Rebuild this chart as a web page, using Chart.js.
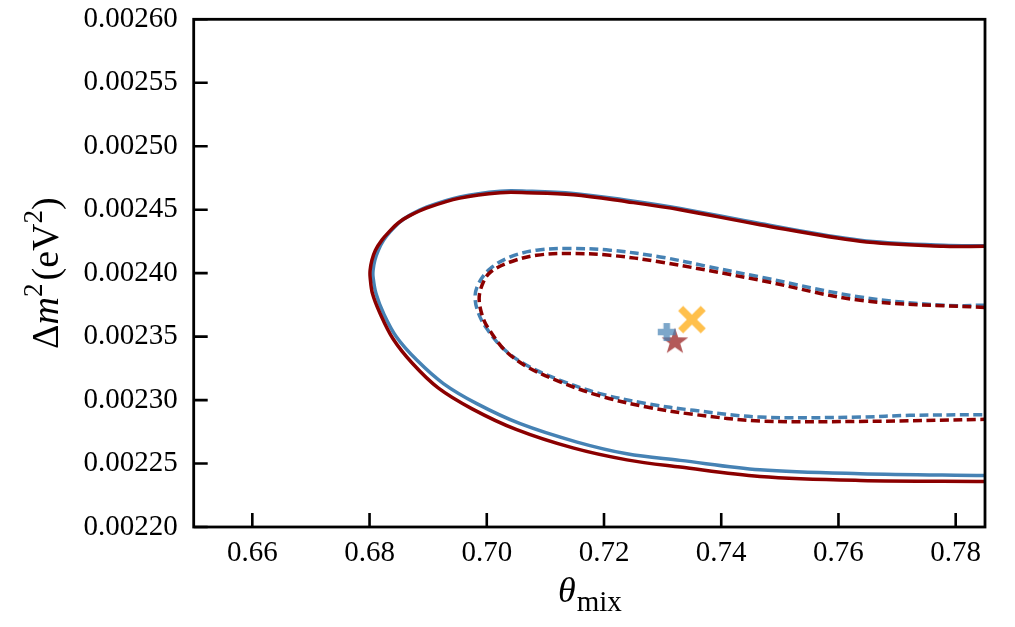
<!DOCTYPE html>
<html>
<head>
<meta charset="utf-8">
<script src="https://cdn.jsdelivr.net/npm/chart.js@4.4.1/dist/chart.umd.min.js"></script>
<style>
html,body{margin:0;padding:0;background:#fff;}
#wrap{width:1015px;height:627px;position:relative;}
</style>
</head>
<body>
<div id="wrap"><canvas id="c"></canvas></div>
<script>
// ---- data ----
const xTicks = [0.66, 0.68, 0.70, 0.72, 0.74, 0.76, 0.78];
const yTicks = [0.00220, 0.00225, 0.00230, 0.00235, 0.00240, 0.00245, 0.00250, 0.00255, 0.00260];

// outer (solid) contour, red
const redOuterX = [0.7850,0.7779,0.7637,0.7466,0.7330,0.7239,0.7148,0.7068,0.7023,0.6954,0.6898,0.6867,0.6849,0.6832,0.6821,0.6810,0.6804,0.6801,0.6801,0.6805,0.6818,0.6840,0.6873,0.6917,0.6975,0.7050,0.7147,0.7239,0.7330,0.7466,0.7637,0.7850];
const redOuterY = [0.0024212,0.0024212,0.0024252,0.0024382,0.0024500,0.0024563,0.0024618,0.0024634,0.0024634,0.0024591,0.0024514,0.0024449,0.0024396,0.0024319,0.0024260,0.0024181,0.0024102,0.0024023,0.0023970,0.0023839,0.0023682,0.0023483,0.0023290,0.0023096,0.0022931,0.0022769,0.0022623,0.0022529,0.0022472,0.0022398,0.0022367,0.0022359];
// outer (solid) contour, blue
const blueOuterX = [0.7850,0.7779,0.7637,0.7466,0.7330,0.7239,0.7148,0.7068,0.7023,0.6954,0.6898,0.6869,0.6852,0.6835,0.6824,0.6815,0.6809,0.6806,0.6806,0.6811,0.6824,0.6846,0.6881,0.6926,0.6983,0.7057,0.7154,0.7239,0.7330,0.7466,0.7637,0.7850];
const blueOuterY = [0.0024216,0.0024220,0.0024260,0.0024391,0.0024510,0.0024575,0.0024628,0.0024646,0.0024646,0.0024601,0.0024522,0.0024457,0.0024404,0.0024325,0.0024260,0.0024181,0.0024102,0.0024023,0.0023970,0.0023839,0.0023682,0.0023497,0.0023313,0.0023130,0.0022972,0.0022814,0.0022669,0.0022577,0.0022525,0.0022451,0.0022420,0.0022406];
// inner (dashed) contour, red
const redInnerX = [0.7850,0.7637,0.7466,0.7296,0.7210,0.7142,0.7085,0.7040,0.7007,0.6994,0.6987,0.6994,0.7006,0.7031,0.7069,0.7125,0.7193,0.7273,0.7353,0.7466,0.7637,0.7850];
const redInnerY = [0.0023729,0.0023786,0.0023944,0.0024088,0.0024141,0.0024155,0.0024141,0.0024088,0.0024011,0.0023928,0.0023800,0.0023642,0.0023542,0.0023392,0.0023262,0.0023144,0.0023033,0.0022945,0.0022887,0.0022835,0.0022832,0.0022848];
// inner (dashed) contour, blue
const blueInnerX = [0.7850,0.7779,0.7637,0.7466,0.7381,0.7296,0.7210,0.7142,0.7085,0.7040,0.7006,0.6986,0.6980,0.6986,0.7000,0.7028,0.7068,0.7125,0.7193,0.7273,0.7353,0.7466,0.7637,0.7722,0.7850];
const blueInnerY = [0.0023747,0.0023747,0.0023812,0.0023970,0.0024049,0.0024128,0.0024181,0.0024194,0.0024181,0.0024128,0.0024036,0.0023918,0.0023812,0.0023682,0.0023563,0.0023406,0.0023274,0.0023156,0.0023051,0.0022972,0.0022919,0.0022866,0.0022866,0.0022880,0.0022885];

// best-fit points
const plusPoint = [0.7307, 0.0023536];
const starPoint = [0.7321, 0.0023471];
const xPoint    = [0.7350, 0.0023634];

// ---- helpers ----
const zip = (xs, ys) => xs.map((x, i) => ({x: x, y: ys[i]}));

function crossPath(g, h, w) {
  g.beginPath();
  g.moveTo(-w,-h); g.lineTo(w,-h); g.lineTo(w,-w); g.lineTo(h,-w); g.lineTo(h,w); g.lineTo(w,w);
  g.lineTo(w,h); g.lineTo(-w,h); g.lineTo(-w,w); g.lineTo(-h,w); g.lineTo(-h,-w); g.lineTo(-w,-w);
  g.closePath(); g.fill();
}
function markerCanvas(kind, color) {
  const s = 40, c = document.createElement('canvas');
  c.width = s; c.height = s;
  const g = c.getContext('2d');
  g.fillStyle = color;
  g.translate(s/2, s/2);
  if (kind === 'star') {
    const R = 14, r = R * 0.40;
    g.translate(0, 1.5);
    g.beginPath();
    for (let i = 0; i < 10; i++) {
      const a = -Math.PI/2 + i * Math.PI/5, rr = (i % 2 === 0) ? R : r;
      g.lineTo(rr*Math.cos(a), rr*Math.sin(a));
    }
    g.closePath(); g.fill();
  } else if (kind === 'plus') {
    crossPath(g, 9, 3.3);
  } else {
    g.rotate(Math.PI/4);
    crossPath(g, 16, 3.6);
  }
  return c;
}

const RED = '#8b0000', BLUE = '#4682b4';
const SERIF = '"Liberation Serif", "DejaVu Serif", serif';

const framePlugin = {
  id: 'frame',
  afterDatasetsDraw(chart) {
    const ctx = chart.ctx, a = chart.chartArea;
    const xs = chart.scales.x, ys = chart.scales.y;
    ctx.save();
    ctx.strokeStyle = '#000';
    ctx.lineWidth = 2.8;
    ctx.strokeRect(a.left, a.top, a.right - a.left, a.bottom - a.top);
    ctx.lineWidth = 2.6;
    ctx.beginPath();
    xTicks.forEach(v => {
      const p = xs.getPixelForValue(v);
      ctx.moveTo(p, a.bottom); ctx.lineTo(p, a.bottom - 14);
    });
    yTicks.forEach(v => {
      const p = ys.getPixelForValue(v);
      ctx.moveTo(a.left, p); ctx.lineTo(a.left + 14, p);
    });
    ctx.stroke();
    ctx.restore();
  },
  afterDraw(chart) {
    const ctx = chart.ctx, a = chart.chartArea;
    ctx.save();
    ctx.fillStyle = '#000';
    ctx.textBaseline = 'alphabetic';
    // x title: theta_mix
    const cx = (a.left + a.right) / 2;
    ctx.font = 'italic 36px ' + SERIF;
    const wT = ctx.measureText('θ').width;
    ctx.font = '29px ' + SERIF;
    const wS = ctx.measureText('mix').width;
    let x0 = cx - (wT + wS) / 2;
    ctx.font = 'italic 36px ' + SERIF;
    ctx.fillText('θ', x0, 602);
    ctx.font = '29px ' + SERIF;
    ctx.fillText('mix', x0 + wT + 1, 611);
    // y title: Δm^2 (eV^2)
    const cy = (a.top + a.bottom) / 2;
    ctx.translate(58, cy);
    ctx.rotate(-Math.PI / 2);
    const parts = [
      {t: 'Δ', f: '38px ', dy: 0},
      {t: 'm', f: 'italic 38px ', dy: 0},
      {t: '2', f: '27px ', dy: -16},
      {t: '(eV', f: '38px ', dy: 0, pre: 3},
      {t: '2', f: '27px ', dy: -16},
      {t: ')', f: '38px ', dy: 0}
    ];
    let total = 0;
    parts.forEach(p => { ctx.font = p.f + SERIF; p.w = ctx.measureText(p.t).width; total += p.w + (p.pre || 0); });
    let px = -total / 2;
    parts.forEach(p => {
      px += (p.pre || 0);
      ctx.font = p.f + SERIF;
      ctx.fillText(p.t, px, p.dy);
      px += p.w;
    });
    ctx.restore();
  }
};

new Chart(document.getElementById('c'), {
  type: 'scatter',
  data: {
    datasets: [
      {data: zip(redOuterX, redOuterY), showLine: true, borderColor: RED, borderWidth: 3.5, pointRadius: 0, tension: 0.35, fill: false},
      {data: zip(redInnerX, redInnerY), showLine: true, borderColor: RED, borderWidth: 3.5, borderDash: [9, 4.5], pointRadius: 0, tension: 0.35, fill: false},
      {data: zip(blueOuterX, blueOuterY), showLine: true, borderColor: BLUE, borderWidth: 3.5, pointRadius: 0, tension: 0.35, fill: false},
      {data: zip(blueInnerX, blueInnerY), showLine: true, borderColor: BLUE, borderWidth: 3.5, borderDash: [9, 4.5], pointRadius: 0, tension: 0.35, fill: false},
      {data: [{x: plusPoint[0], y: plusPoint[1]}], pointStyle: markerCanvas('plus', 'rgba(70,130,180,0.7)'), pointRadius: 12},
      {data: [{x: starPoint[0], y: starPoint[1]}], pointStyle: markerCanvas('star', 'rgba(139,0,0,0.65)'), pointRadius: 12},
      {data: [{x: xPoint[0], y: xPoint[1]}], pointStyle: markerCanvas('x', 'rgba(255,165,0,0.7)'), pointRadius: 12}
    ]
  },
  options: {
    responsive: true,
    maintainAspectRatio: false,
    animation: false,
    devicePixelRatio: 1,
    layout: {padding: {left: 0, right: 30, top: 19.3, bottom: 0}},
    plugins: {legend: {display: false}, tooltip: {enabled: false}},
    scales: {
      x: {
        type: 'linear', min: 0.65, max: 0.785,
        afterBuildTicks: s => { s.ticks = xTicks.map(v => ({value: v})); },
        afterFit: s => { s.height = 100; s.paddingLeft = 0; s.paddingRight = 0; },
        grid: {display: false, drawTicks: false},
        border: {display: false},
        ticks: {color: '#000', padding: 9, font: {family: SERIF, size: 29}, callback: v => v.toFixed(2), maxRotation: 0, autoSkip: false}
      },
      y: {
        type: 'linear', min: 0.0022, max: 0.0026,
        afterBuildTicks: s => { s.ticks = yTicks.map(v => ({value: v})); },
        afterFit: s => { s.width = 193.7; s.paddingTop = 0; s.paddingBottom = 0; },
        grid: {display: false, drawTicks: false},
        border: {display: false},
        ticks: {color: '#000', padding: 16, font: {family: SERIF, size: 29}, callback: v => v.toFixed(5), autoSkip: false}
      }
    }
  },
  plugins: [framePlugin]
});
</script>
</body>
</html>
